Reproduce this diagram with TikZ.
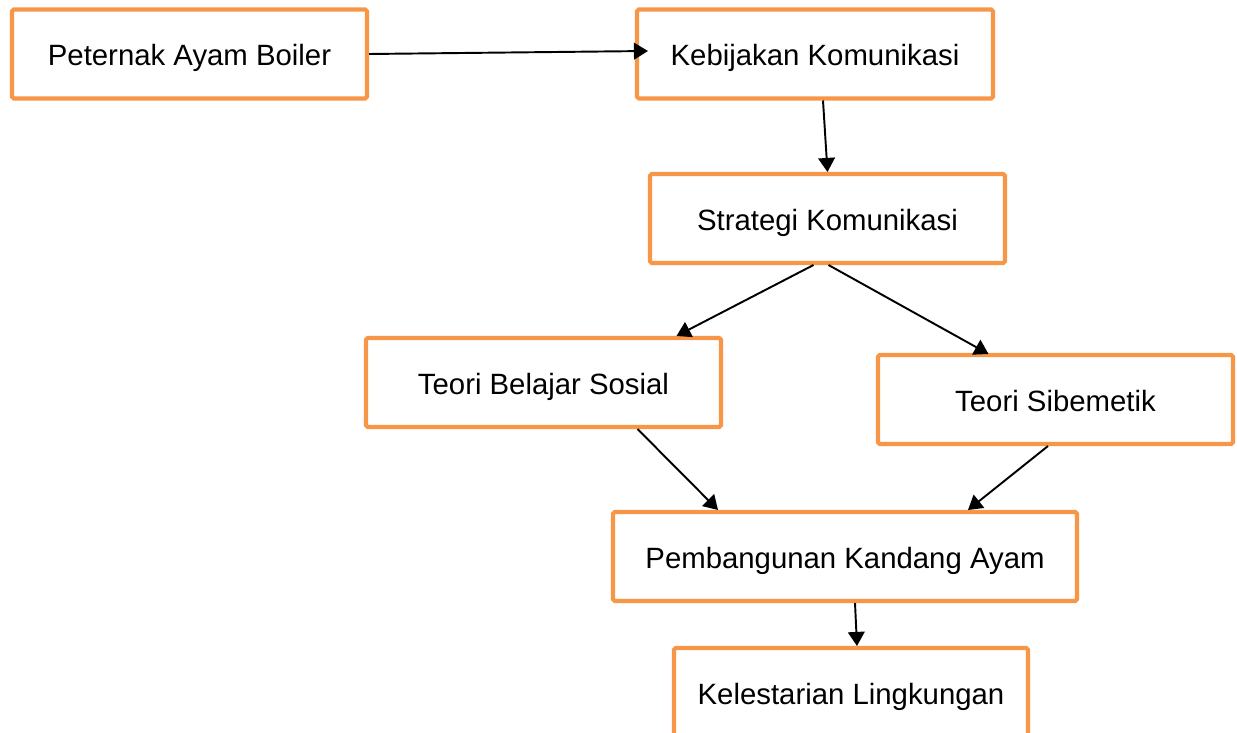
\documentclass[tikz,border=0pt]{standalone}
\usepackage{fontspec}
\setmainfont{Liberation Sans}
\usetikzlibrary{arrows.meta}
\definecolor{boxorange}{HTML}{F79646}

\begin{document}
\begin{tikzpicture}[x=0.02cm,y=-0.02cm,
    >={Triangle[length=8pt,width=9.5pt]},
    kotak/.style={draw=boxorange,line width=2.3pt,rounded corners=1pt,
      minimum width=#1*0.02cm,minimum height=1.78cm,inner sep=0pt,
      text height=14.5pt,text depth=1pt,
      font=\fontsize{16.7}{20}\selectfont},
    kotak/.default=355,
    panah/.style={->,line width=1.1pt}]
  \useasboundingbox (0,0) rectangle (1237,733);

  \node[kotak] (peternak) at (189.5,54) {Peternak Ayam Boiler};
  \node[kotak=356] (kebijakan) at (815,54) {Kebijakan Komunikasi};
  \node[kotak] (strategi) at (827.5,218.5) {Strategi Komunikasi};
  \node[kotak] (belajar) at (543.5,382.5) {Teori Belajar Sosial};
  \node[kotak] (sibemetik) at (1055.5,399.5) {Teori Sibemetik};
  \node[kotak=464] (kandang) at (845,556.5) {Pembangunan Kandang Ayam};
  \node[kotak=354] (lestari) at (851,692.5) {Kelestarian Lingkungan};

  \draw[panah] (peternak.east) -- ([shift={(13,-3)}]kebijakan.west);
  \draw[panah] ([shift={(8,0)}]kebijakan.south) -- (strategi.north);
  \draw[panah] ([shift={(-14,0)}]strategi.south) -- ([shift={(133,0)}]belajar.north);
  \draw[panah] ([shift={(1,0)}]strategi.south) -- ([shift={(-67,1)}]sibemetik.north);
  \draw[panah] ([shift={(94,0)}]belajar.south) -- ([shift={(-127,0)}]kandang.north);
  \draw[panah] ([shift={(-7.5,0)}]sibemetik.south) -- ([shift={(123,0)}]kandang.north);
  \draw[panah] ([shift={(10,0)}]kandang.south) -- ([shift={(6,0)}]lestari.north);
\end{tikzpicture}
\end{document}
